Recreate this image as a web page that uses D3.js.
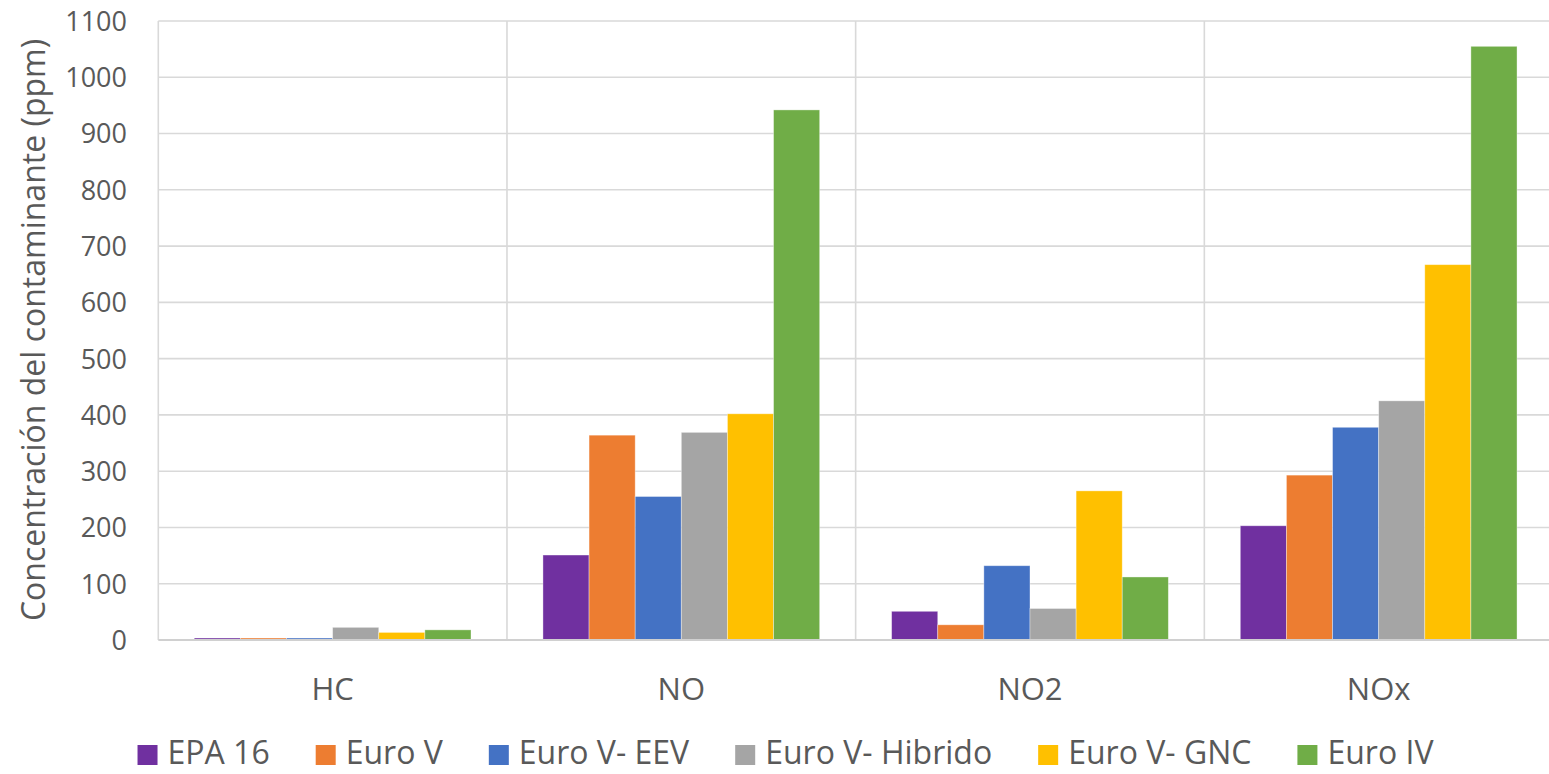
<!DOCTYPE html>
<html>
<head>
<meta charset="utf-8">
<script src="https://cdn.jsdelivr.net/npm/d3@7"></script>
<style>
  html, body { margin: 0; padding: 0; background: #fff; }
  svg { display: block; }
  text { font-family: "Open Sans", sans-serif; fill: #595959; }
</style>
</head>
<body>
<svg id="chart" width="1549" height="774"></svg>
<script>
const categories = ["HC", "NO", "NO2", "NOx"];
const seriesNames = ["EPA 16", "Euro V", "Euro V- EEV", "Euro V- Hibrido", "Euro V- GNC", "Euro IV"];
const seriesColors = ["#7030A0", "#ED7D31", "#4472C4", "#A5A5A5", "#FFC000", "#70AD47"];
const epa16 = [3.5, 151, 51, 203];
const euroV = [3.5, 364, 27, 293];
const euroVEEV = [3.5, 255, 132, 378];
const euroVHibrido = [22.5, 369, 56, 425];
const euroVGNC = [13.5, 402, 265, 667];
const euroIV = [18, 942, 112, 1055];
const yTicks = [0, 100, 200, 300, 400, 500, 600, 700, 800, 900, 1000, 1100];
const seriesValues = [epa16, euroV, euroVEEV, euroVHibrido, euroVGNC, euroIV];

const svg = d3.select("#chart");
const mLeft = 158.3, mRight = 1553, mTop = 21, mBottom = 640;

const x0 = d3.scaleBand().domain(categories).range([mLeft, mRight]).padding(0);
const x1 = d3.scaleBand().domain(seriesNames).range([0, x0.bandwidth()]).paddingInner(0).paddingOuter(0.78);
const y = d3.scaleLinear().domain([0, 1100]).range([mBottom, mTop]);

// horizontal gridlines
svg.append("g").selectAll("line").data(yTicks.filter(d => d > 0)).join("line")
  .attr("x1", mLeft).attr("x2", mRight)
  .attr("y1", d => y(d)).attr("y2", d => y(d))
  .attr("stroke", "#d9d9d9").attr("stroke-width", 1.6);

// vertical category separators
svg.append("g").selectAll("line").data(categories).join("line")
  .attr("x1", d => x0(d)).attr("x2", d => x0(d))
  .attr("y1", mTop).attr("y2", mBottom)
  .attr("stroke", "#d9d9d9").attr("stroke-width", 1.6);

// y tick labels
const yAxis = d3.axisLeft(y).tickValues(yTicks).tickSize(0).tickPadding(0).tickFormat(d3.format("d"));
const gy = svg.append("g").attr("transform", `translate(127,0)`).call(yAxis);
gy.select(".domain").remove();
gy.selectAll("text").style("font-family", '"Open Sans", sans-serif').style("font-size", "27px").attr("fill", "#595959").attr("dy", "0.35em");

// bars
const groups = svg.append("g").selectAll("g").data(categories).join("g")
  .attr("transform", d => `translate(${x0(d)},0)`);
groups.selectAll("rect").data((c, ci) => seriesNames.map((s, si) => ({s, si, v: seriesValues[si][ci]}))).join("rect")
  .attr("x", d => x1(d.s)).attr("width", x1.bandwidth())
  .attr("y", d => y(d.v)).attr("height", d => mBottom - y(d.v))
  .attr("fill", d => seriesColors[d.si])
  .attr("stroke", "#ffffff").attr("stroke-opacity", 0.45).attr("stroke-width", 0.8);

// bottom axis line
svg.append("line").attr("x1", mLeft).attr("x2", mRight).attr("y1", mBottom).attr("y2", mBottom)
  .attr("stroke", "#d0d0d0").attr("stroke-width", 2);

// category labels
const xAxis = d3.axisBottom(x0).tickSize(0).tickPadding(0);
const gx = svg.append("g").attr("transform", `translate(0,700)`).call(xAxis);
gx.select(".domain").remove();
gx.selectAll("text").style("font-family", '"Open Sans", sans-serif').style("font-size", "31px").attr("fill", "#595959").attr("dy", "0");

// y axis title
svg.append("text")
  .attr("transform", "translate(45,330) rotate(-90)")
  .attr("text-anchor", "middle")
  .style("font-size", "32px")
  .text("Concentración del contaminante (ppm)");

// legend
const legend = svg.append("g");
const items = legend.selectAll("g").data(seriesNames).join("g");
items.append("rect").attr("width", 20).attr("height", 20).attr("y", -10).attr("fill", (d, i) => seriesColors[i]);
items.append("text").attr("x", 30).attr("y", 9).style("font-size", "32px").text(d => d);
let cx = 0;
const gap = 46;
items.each(function() {
  const w = d3.select(this).select("text").node().getComputedTextLength();
  d3.select(this).attr("transform", `translate(${cx},755)`);
  cx += 30 + w + gap;
});
const total = cx - gap;
legend.attr("transform", `translate(${785.5 - total / 2},0)`);
</script>
</body>
</html>
